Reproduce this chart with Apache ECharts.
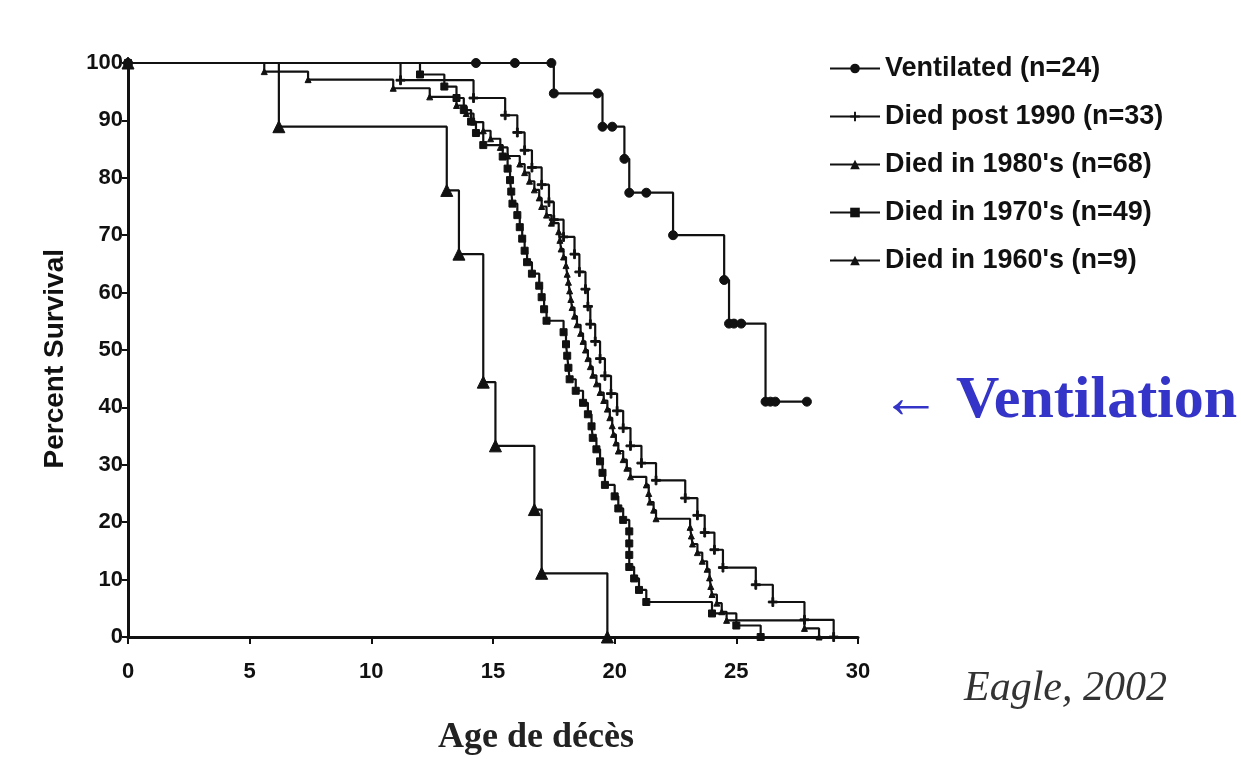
<!DOCTYPE html>
<html>
<head>
<meta charset="utf-8">
<script src="https://cdn.jsdelivr.net/npm/echarts@6/dist/echarts.min.js"></script>
<style>
  html, body { margin: 0; padding: 0; background: #ffffff; }
  #chart { width: 1241px; height: 759px; }
</style>
</head>
<body>
<div id="chart"></div>
<script>
// Kaplan–Meier survival curves: each entry is [age in years, percent surviving]
const ventilated = [
  [0, 100], [14.3, 100], [15.9, 100], [17.4, 100], [17.5, 94.7], [19.3, 94.7],
  [19.5, 88.9], [19.9, 88.9], [20.4, 83.3], [20.6, 77.4], [21.3, 77.4],
  [22.4, 70.0], [24.5, 62.2], [24.7, 54.6], [24.9, 54.6], [25.2, 54.6],
  [26.2, 41.0], [26.4, 41.0], [26.6, 41.0], [27.9, 41.0]
];

const diedPost1990 = [
  [0, 100], [11.2, 97.0], [14.2, 93.9], [15.5, 90.9], [16.0, 87.9], [16.3, 84.8],
  [16.6, 81.8], [17.0, 78.8], [17.3, 75.8], [17.5, 72.7], [17.9, 69.7],
  [18.35, 66.7], [18.55, 63.6], [18.8, 60.6], [18.9, 57.6], [19.0, 54.5],
  [19.2, 51.5], [19.4, 48.5], [19.6, 45.5], [19.85, 42.4], [20.1, 39.4],
  [20.35, 36.4], [20.65, 33.3], [21.1, 30.3], [21.7, 27.3], [22.9, 24.2],
  [23.4, 21.2], [23.7, 18.2], [24.1, 15.2], [24.45, 12.1], [25.8, 9.1],
  [26.5, 6.1], [27.8, 3.0], [29.0, 0]
];

const died1980s = [
  [0, 100], [5.6, 98.5], [7.4, 97.1], [10.9, 95.6], [12.4, 94.1], [13.5, 92.6],
  [13.9, 91.2], [14.2, 89.7], [14.6, 88.2], [14.9, 86.8], [15.3, 85.3],
  [15.6, 83.8], [16.1, 82.4], [16.3, 80.9], [16.5, 79.4], [16.7, 77.9],
  [16.9, 76.5], [17.0, 75.0], [17.2, 73.5], [17.4, 72.1], [17.7, 70.6],
  [17.75, 69.1], [17.8, 67.6], [17.9, 66.2], [18.0, 64.7], [18.05, 63.2],
  [18.1, 61.8], [18.15, 60.3], [18.2, 58.8], [18.25, 57.4], [18.35, 55.9],
  [18.45, 54.4], [18.6, 52.9], [18.7, 51.5], [18.8, 50.0], [18.9, 48.5],
  [19.0, 47.1], [19.1, 45.6], [19.25, 44.1], [19.4, 42.6], [19.55, 41.2],
  [19.7, 39.7], [19.8, 38.2], [19.9, 36.8], [19.95, 35.3], [20.05, 33.8],
  [20.15, 32.4], [20.35, 30.9], [20.5, 29.4], [20.65, 27.9], [21.3, 26.5],
  [21.4, 25.0], [21.45, 23.5], [21.6, 22.1], [21.7, 20.6], [23.1, 19.1],
  [23.15, 17.6], [23.2, 16.2], [23.4, 14.7], [23.6, 13.2], [23.8, 11.8],
  [23.9, 10.3], [23.95, 8.8], [24.0, 7.4], [24.2, 5.9], [24.4, 4.4],
  [24.6, 2.9], [27.8, 1.5], [28.4, 0]
];

const died1970s = [
  [0, 100], [12.0, 98.0], [13.0, 95.9], [13.5, 93.9], [13.8, 91.8], [14.1, 89.8],
  [14.3, 87.8], [14.6, 85.7], [15.4, 83.7], [15.6, 81.6], [15.7, 79.6],
  [15.75, 77.6], [15.8, 75.5], [16.0, 73.5], [16.1, 71.4], [16.2, 69.4],
  [16.3, 67.3], [16.4, 65.3], [16.6, 63.3], [16.9, 61.2], [17.0, 59.2],
  [17.1, 57.1], [17.2, 55.1], [17.9, 53.1], [18.0, 51.0], [18.05, 49.0],
  [18.1, 46.9], [18.15, 44.9], [18.4, 42.9], [18.7, 40.8], [18.9, 38.8],
  [19.05, 36.7], [19.1, 34.7], [19.25, 32.7], [19.4, 30.6], [19.5, 28.6],
  [19.6, 26.5], [20.0, 24.5], [20.15, 22.4], [20.35, 20.4], [20.6, 18.4],
  [20.6, 16.3], [20.6, 14.3], [20.6, 12.2], [20.8, 10.2], [21.0, 8.2],
  [21.3, 6.1], [24.0, 4.1], [25.0, 2.0], [26.0, 0]
];

const died1960s = [
  [0, 100], [6.2, 88.9], [13.1, 77.8], [13.6, 66.7], [14.6, 44.4], [15.1, 33.3],
  [16.7, 22.2], [17.0, 11.1], [19.7, 0]
];

const seriesNames = [
  'Ventilated (n=24)',
  'Died post 1990 (n=33)',
  "Died in 1980's (n=68)",
  "Died in 1970's (n=49)",
  "Died in 1960's (n=9)"
];

const xTickStep = 5;
const yTickStep = 10;

const INK = '#111111';
const TICK_FONT = "'Liberation Sans Narrow', 'Liberation Sans', Arial, sans-serif";

function curve(name, data, symbol, size) {
  return {
    name: name,
    type: 'line',
    step: 'end',
    data: data,
    symbol: symbol,
    symbolSize: size,
    showSymbol: true,
    showAllSymbol: true,
    lineStyle: { color: INK, width: 2.2 },
    itemStyle: { color: INK, borderColor: INK },
    emphasis: { disabled: true },
    z: 3
  };
}

const plusPath = 'path://M4,0H6V4H10V6H6V10H4V6H0V4H4Z';

const chart = echarts.init(document.getElementById('chart'), null, { renderer: 'canvas' });

chart.setOption({
  animation: false,
  backgroundColor: '#ffffff',
  grid: { left: 128, right: 383, top: 63, bottom: 122, containLabel: false },
  legend: {
    orient: 'vertical',
    left: 824,
    top: 50,
    itemWidth: 50,
    itemHeight: 12,
    itemGap: 21,
    data: seriesNames,
    textStyle: {
      color: INK,
      fontSize: 27,
      fontWeight: 'bold',
      lineHeight: 26,
      fontFamily: "'Liberation Sans', Arial, sans-serif",
      padding: [0, 0, 0, 0]
    }
  },
  xAxis: {
    type: 'value',
    min: 0,
    max: 30,
    interval: xTickStep,
    axisLine: { show: true, onZero: false, lineStyle: { color: INK, width: 3 } },
    axisTick: { show: true, length: 7, lineStyle: { color: INK, width: 2 } },
    splitLine: { show: false },
    axisLabel: {
      color: INK, fontSize: 22, fontWeight: 'bold', fontFamily: TICK_FONT, margin: 24
    }
  },
  yAxis: {
    type: 'value',
    min: 0,
    max: 100,
    interval: yTickStep,
    axisLine: { show: true, onZero: false, lineStyle: { color: INK, width: 3 } },
    axisTick: { show: true, length: 6, lineStyle: { color: INK, width: 2 } },
    splitLine: { show: false },
    axisLabel: {
      color: INK, fontSize: 22, fontWeight: 'bold', fontFamily: TICK_FONT, margin: 5
    }
  },
  series: [
    curve(seriesNames[0], ventilated, 'circle', 9),
    curve(seriesNames[1], diedPost1990, plusPath, 9),
    curve(seriesNames[2], died1980s, 'triangle', 6),
    curve(seriesNames[3], died1970s, 'rect', 7),
    curve(seriesNames[4], died1960s, 'triangle', 12)
  ],
  graphic: [
    {
      type: 'text',
      left: 41,
      top: 249,
      rotation: Math.PI / 2,
      style: {
        text: 'Percent Survival',
        font: "bold 28px 'Liberation Sans', Arial, sans-serif",
        fill: INK
      }
    },
    {
      type: 'text',
      left: 438,
      top: 720,
      style: {
        text: 'Age de décès',
        font: "bold 36px 'Liberation Serif', 'Times New Roman', serif",
        fill: '#222222'
      }
    },
    {
      type: 'text',
      left: 964,
      top: 668,
      style: {
        text: 'Eagle, 2002',
        font: "italic 42px 'Liberation Serif', 'Times New Roman', serif",
        fill: '#333333'
      }
    },
    {
      type: 'text',
      left: 881,
      top: 371,
      style: {
        text: '\u2190 Ventilation',
        font: "bold 60px 'Liberation Serif', 'Times New Roman', serif",
        fill: '#3434c8'
      }
    }
  ]
});
</script>
</body>
</html>
